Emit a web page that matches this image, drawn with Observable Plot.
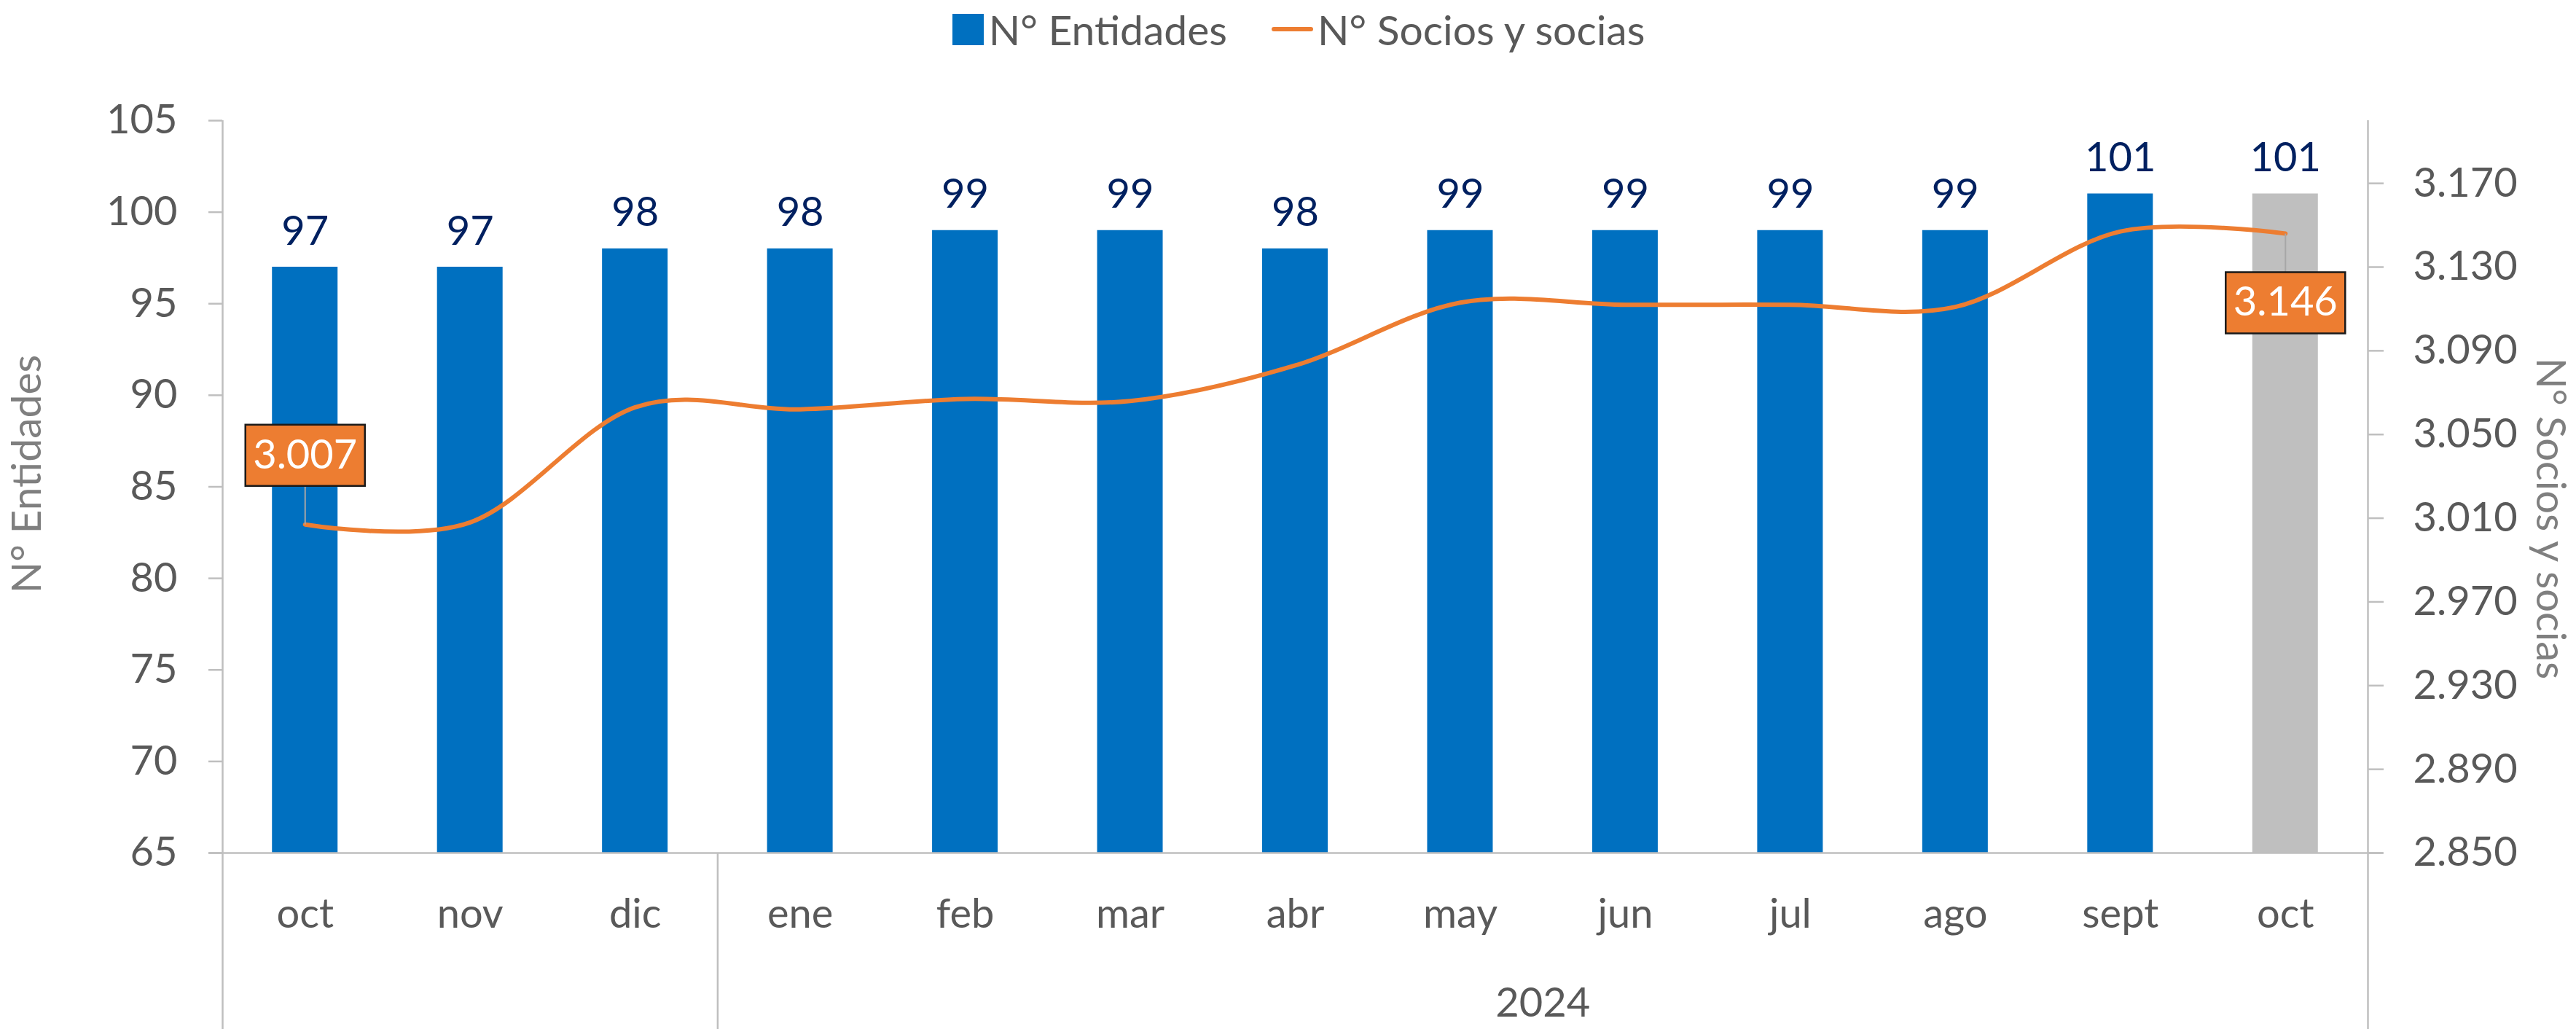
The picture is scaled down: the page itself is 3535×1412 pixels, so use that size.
<!DOCTYPE html>
<html>
<head>
<meta charset="utf-8">
<script src="https://cdn.jsdelivr.net/npm/d3@7"></script>
<script src="https://cdn.jsdelivr.net/npm/@observablehq/plot@0.6"></script>
<style>
  html, body { margin: 0; padding: 0; background: #ffffff; }
  #legend { height: 80px; display: flex; justify-content: center; align-items: center;
            font-family: Lato, "Open Sans", sans-serif; font-size: 57px; color: #595959;
            padding-left: 29px; box-sizing: border-box; width: 3535px; }
  #legend .sq { width: 43px; height: 43px; background: #0070C0; margin-right: 7px; }
  #legend .ln { width: 57px; height: 6px; background: #ED7D31; margin-left: 61px; margin-right: 6px; border-radius: 3px; }
  #chart svg { display: block; }
</style>
</head>
<body>
<div id="legend"></div>
<div id="chart"></div>
<script>
// ---------- data ----------
const months = ["oct", "nov", "dic", "ene", "feb", "mar", "abr", "may", "jun", "jul", "ago", "sept", "oct"];
const years = [2023, 2023, 2023, 2024, 2024, 2024, 2024, 2024, 2024, 2024, 2024, 2024, 2024];
const shownYears = [2024];
const entidades = [97, 97, 98, 98, 99, 99, 98, 99, 99, 99, 99, 101, 101];
const socios = [3007, 3008, 3063, 3062, 3067, 3066, 3083, 3113, 3112, 3112, 3111, 3147, 3146];
const seriesNames = ["N° Entidades", "N° Socios y socias"];
const leftTicks = [65, 70, 75, 80, 85, 90, 95, 100, 105];
const rightTicks = [2850, 2890, 2930, 2970, 3010, 3050, 3090, 3130, 3170];
const yDomain = [65, 105];
const y2Domain = [2850, 3200];
const calloutAbove = [0];   // index of month with callout above the line
const calloutBelow = [12];  // index of month with callout below the line

// ---------- layout / style ----------
const W = 3535, H = 1332;
const mL = 305, mR = 286, mT = 85, mB = 242;
const n = months.length;
const step = (W - mL - mR) / n;
const barW = 90;
const inset = (step - barW) / 2;
const axisColor = "#BFBFBF";
const textColor = "#595959";
const FS = 56;

const toLeft = v => yDomain[0] + (v - y2Domain[0]) * (yDomain[1] - yDomain[0]) / (y2Domain[1] - y2Domain[0]);
const fromLeft = y => y2Domain[0] + (y - yDomain[0]) * (y2Domain[1] - y2Domain[0]) / (yDomain[1] - yDomain[0]);
const fmt = d3.formatLocale({decimal: ",", thousands: ".", grouping: [3], currency: ["", ""]}).format(",.0f");

const rows = months.map((m, i) => ({i, m, year: years[i], ent: entidades[i], soc: socios[i]}));

// group boundaries by year
const bounds = [0];
for (let i = 1; i < n; i++) if (years[i] !== years[i - 1]) bounds.push(i);
bounds.push(n);
const groups = [];
for (let k = 0; k < bounds.length - 1; k++) groups.push({year: years[bounds[k]], start: bounds[k], end: bounds[k + 1]});
const outerBounds = [bounds[0], bounds[bounds.length - 1]];
const innerBounds = bounds.slice(1, -1);

// legend
const legend = document.getElementById("legend");
legend.innerHTML = `<span class="sq"></span><span>${seriesNames[0]}</span><span class="ln"></span><span>${seriesNames[1]}</span>`;

const boxW = 164, boxH = 84, boxOff = 95;
const boxSymbol = {draw(ctx) { ctx.moveTo(-boxW/2, -boxH/2); ctx.lineTo(boxW/2, -boxH/2); ctx.lineTo(boxW/2, boxH/2); ctx.lineTo(-boxW/2, boxH/2); ctx.closePath(); }};
const leaderUp = {draw(ctx) { ctx.moveTo(0, 0); ctx.lineTo(0, -(boxOff - boxH/2)); }};
const leaderDown = {draw(ctx) { ctx.moveTo(0, 0); ctx.lineTo(0, (boxOff - boxH/2)); }};

const xc = d => d.i + 0.5;
const ys = d => toLeft(d.soc);
const above = rows.filter(d => calloutAbove.includes(d.i));
const below = rows.filter(d => calloutBelow.includes(d.i));

const chart = Plot.plot({
  width: W, height: H,
  marginTop: mT, marginBottom: mB, marginLeft: mL, marginRight: mR,
  style: {fontFamily: "Lato, 'Open Sans', sans-serif", fontSize: FS + "px", background: "#ffffff", overflow: "visible"},
  x: {domain: [0, n], axis: null},
  y: {domain: yDomain, axis: null},
  marks: [
    // bars
    Plot.rect(rows.filter(d => d.i < n - 1), {x1: "i", x2: d => d.i + 1, y1: yDomain[0], y2: "ent", fill: "#0070C0", insetLeft: inset, insetRight: inset}),
    Plot.rect(rows.filter(d => d.i === n - 1), {x1: "i", x2: d => d.i + 1, y1: yDomain[0], y2: "ent", fill: "#BFBFBF", insetLeft: inset, insetRight: inset}),
    // axes lines
    Plot.ruleY([yDomain[0]], {stroke: axisColor, strokeWidth: 2.5, insetLeft: -19, insetRight: -21}),
    Plot.ruleX(outerBounds, {stroke: axisColor, strokeWidth: 2.5, insetBottom: -mB}),
    Plot.ruleX(innerBounds, {stroke: axisColor, strokeWidth: 2.5, insetTop: H - mT - mB, insetBottom: -mB}),
    Plot.axisY(leftTicks, {anchor: "left", tickSize: 19, tickPadding: 43, stroke: axisColor, strokeWidth: 2.5, fill: textColor, fontSize: FS, label: null}),
    Plot.axisY(rightTicks.map(toLeft), {anchor: "right", tickSize: 21, tickPadding: 41, stroke: axisColor, strokeWidth: 2.5, fill: textColor, fontSize: FS, label: null,
      tickFormat: d => fmt(Math.round(fromLeft(d)))}),
    Plot.axisX(rows.map(xc), {anchor: "bottom", tickSize: 0, tickPadding: 63, fill: textColor, fontSize: FS, label: null,
      tickFormat: d => months[Math.floor(d)]}),
    // year group labels
    Plot.text(groups.filter(g => shownYears.includes(g.year)), {x: g => (g.start + g.end) / 2, frameAnchor: "bottom", dy: 224, lineAnchor: "bottom",
      text: g => String(g.year), fill: textColor, fontSize: FS}),
    // axis titles
    Plot.text([seriesNames[0]], {frameAnchor: "left", text: d => d, rotate: -90, textAnchor: "middle", lineAnchor: "middle", dx: -268, dy: -17.5, fill: "#7F7F7F", fontSize: 57}),
    Plot.text([seriesNames[1]], {frameAnchor: "right", text: d => d, rotate: 90, textAnchor: "middle", lineAnchor: "middle", dx: 249, dy: 43.5, fill: "#7F7F7F", fontSize: 56}),
    // socios line
    Plot.line(rows, {x: xc, y: ys, curve: "cardinal", stroke: "#ED7D31", strokeWidth: 6, strokeLinecap: "round"}),
    // leaders
    Plot.dot(above, {x: xc, y: ys, symbol: leaderUp, stroke: "#A6A6A6", strokeWidth: 2, fill: "none"}),
    Plot.dot(below, {x: xc, y: ys, symbol: leaderDown, stroke: "#A6A6A6", strokeWidth: 2, fill: "none"}),
    // callout boxes
    Plot.dot(above, {x: xc, y: ys, symbol: boxSymbol, fill: "#ED7D31", stroke: "#1a1a1a", strokeWidth: 2.5, dy: -boxOff}),
    Plot.dot(below, {x: xc, y: ys, symbol: boxSymbol, fill: "#ED7D31", stroke: "#1a1a1a", strokeWidth: 2.5, dy: boxOff}),
    Plot.text(above, {x: xc, y: ys, text: d => fmt(d.soc), fill: "white", fontSize: FS, lineAnchor: "middle", dy: -boxOff}),
    Plot.text(below, {x: xc, y: ys, text: d => fmt(d.soc), fill: "white", fontSize: FS, lineAnchor: "middle", dy: boxOff}),
    // bar labels
    Plot.text(rows, {x: xc, y: "ent", text: d => String(d.ent), dy: -31, lineAnchor: "bottom", fill: "#002060", fontSize: FS})
  ]
});
document.getElementById("chart").appendChild(chart);
</script>
</body>
</html>
